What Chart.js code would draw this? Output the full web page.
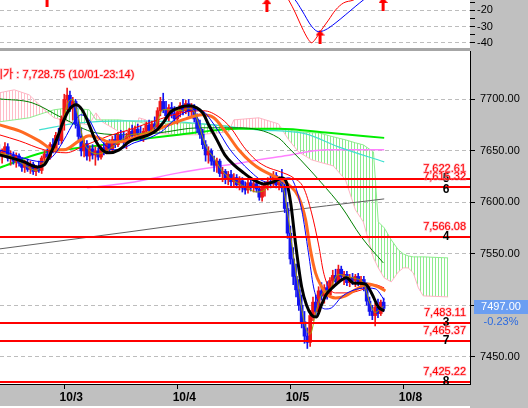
<!DOCTYPE html>
<html lang="ko">
<head>
<meta charset="utf-8">
<title>선물 시간봉 차트</title>
<script src="https://cdn.jsdelivr.net/npm/chart.js@4.4.1/dist/chart.umd.min.js"></script>
<style>
  html, body { margin:0; padding:0; background:#c0c0c0; }
  #frame { position:relative; width:528px; height:408px; overflow:hidden; background:#c0c0c0; }
  #osc { position:absolute; left:0; top:0; }
  #price { position:absolute; left:0; top:51px; }
  #divider { position:absolute; left:0; top:48px; width:470px; height:3px; background:#a6a6a6; }
  #footer { position:absolute; left:0; top:406px; width:470px; height:2px; background:#fff; }
</style>
</head>
<body>
<div id="frame">
  <canvas id="osc" width="528" height="48"></canvas>
  <div id="divider"></div>
  <canvas id="price" width="528" height="357"></canvas>
  <div id="footer"></div>
</div>
<script>
const FONT = "'Liberation Sans', Arial, sans-serif";
const KFONT = "'Liberation Sans', 'Noto Sans CJK KR', sans-serif";
const UP = '#f01818', DOWN = '#1414f0';

// ---- candles (bar index = position) ----
const opens = [7650,7645,7649,7654,7643,7646,7640,7645,7638,7634, 7638,7632,7637,7630,7633,7631,7643,7647,7644,7656,
  7651,7665,7660,7681,7700,7704,7692,7698,7676,7664, 7650,7657,7645,7652,7646,7650,7644,7653,7649,7657,
  7651,7661,7656,7665,7661,7658,7664,7669,7665,7671, 7667,7663,7669,7675,7670,7676,7673,7689,7698,7690,
  7684,7692,7686,7681,7688,7694,7689,7696,7688,7692, 7681,7672,7666,7656,7646,7650,7640,7636,7640,7628,
  7630,7622,7627,7620,7624,7617,7621,7614,7612,7619, 7615,7618,7613,7605,7614,7617,7620,7618,7626,7617,
  7622,7614,7594,7570,7545,7528,7515,7500,7484,7470, 7464,7490,7503,7494,7514,7509,7517,7510,7524,7529,
  7523,7535,7528,7530,7522,7527,7524,7528,7521,7525, 7518,7504,7494,7490,7498,7492,7503];
const highs = [7656,7652,7658,7657,7650,7649,7648,7647,7643,7641, 7642,7640,7639,7636,7640,7645,7650,7652,7658,7662,
  7668,7672,7684,7705,7711,7708,7702,7700,7684,7672, 7661,7660,7655,7656,7654,7653,7655,7658,7660,7661,
  7664,7666,7668,7670,7669,7667,7672,7675,7674,7676, 7674,7672,7678,7680,7679,7683,7692,7702,7706,7698,
  7695,7697,7693,7690,7697,7700,7699,7700,7696,7695, 7686,7680,7671,7660,7654,7652,7645,7643,7642,7634,
  7632,7630,7631,7628,7627,7625,7624,7620,7622,7623, 7621,7621,7616,7616,7620,7624,7627,7630,7629,7625,
  7632,7618,7600,7577,7556,7540,7525,7510,7494,7478, 7495,7508,7510,7518,7522,7520,7523,7527,7534,7535,
  7539,7538,7533,7533,7530,7531,7530,7531,7528,7528, 7522,7508,7500,7502,7506,7505,7507];
const lows = [7641,7638,7644,7640,7636,7637,7634,7635,7630,7629, 7630,7628,7627,7626,7629,7628,7638,7640,7642,7648,
  7649,7656,7657,7670,7690,7688,7680,7672,7660,7645, 7644,7641,7640,7642,7636,7641,7642,7646,7647,7648,
  7649,7653,7654,7658,7655,7652,7660,7662,7661,7663, 7660,7659,7665,7666,7667,7669,7671,7684,7687,7680,
  7679,7682,7678,7676,7683,7685,7686,7684,7682,7678, 7668,7662,7652,7640,7638,7636,7630,7629,7625,7620,
  7618,7617,7616,7615,7614,7612,7610,7608,7609,7611, 7610,7610,7602,7601,7606,7612,7614,7615,7614,7612,
  7610,7590,7565,7540,7520,7508,7495,7478,7463,7458, 7460,7485,7488,7492,7505,7502,7506,7508,7518,7520,
  7521,7524,7520,7519,7518,7520,7518,7519,7516,7514, 7500,7490,7486,7480,7488,7490,7494];
const closes = [7645,7649,7654,7643,7646,7640,7645,7638,7634,7638, 7632,7637,7630,7633,7631,7643,7647,7644,7656,7651,
  7665,7660,7681,7700,7704,7692,7698,7676,7664,7650, 7657,7645,7652,7646,7650,7644,7653,7649,7657,7651,
  7661,7656,7665,7661,7658,7664,7669,7665,7671,7667, 7663,7669,7675,7670,7676,7673,7689,7698,7690,7684,
  7692,7686,7681,7688,7694,7689,7696,7688,7692,7681, 7672,7666,7656,7646,7650,7640,7636,7640,7628,7630,
  7622,7627,7620,7624,7617,7621,7614,7612,7619,7615, 7618,7613,7605,7614,7617,7620,7618,7626,7617,7622,
  7614,7594,7570,7545,7528,7515,7500,7484,7470,7464, 7490,7503,7494,7514,7509,7517,7510,7524,7529,7523,
  7535,7528,7530,7522,7527,7524,7528,7521,7525,7518, 7504,7494,7490,7498,7492,7503,7497];

// ---- axes ----
const dayTicks = [23, 63, 103, 143];
const dayLabels = ['10/3', '10/4', '10/5', '10/8'];
const priceTicks = [7450, 7500, 7550, 7600, 7650, 7700];
const oscTicks = [-40, -35, -30, -25, -20, -15];

// ---- moving averages: [bar, price] ----
const maBlack = [[0,7646.1],[4.2,7643.2],[8.8,7639.3],[13.4,7634.4],[15.9,7636.4],[18.4,7649],[20.5,7662.6],[22.6,7678.2],
  [24.7,7689.9],[27.2,7694.7],[29.3,7689.9],[31.8,7675.3],[33.9,7660.7],[36.4,7651],[38.8,7648.1],[42.4,7651],[45.9,7658.7],
  [49.4,7662.6],[52.9,7665.6],[55.8,7670.4],[58.2,7678.2],[60.7,7687.9],[63.5,7691.8],[67.1,7693.7],[69.9,7691.8],[72,7686.9],
  [74.1,7675.3],[77,7660.7],[79.8,7646.1],[83,7636.4],[86.5,7628.6],[90,7621.8],[93.5,7617.9],[97.1,7619.9],[99.9,7623.8],
  [101.7,7618.9],[103.1,7599.5],[104.8,7560.6],[107,7517.8],[108.7,7500.3],[110.5,7490.6],[112.2,7488.6],[114,7500.3],
  [115.8,7511],[118.2,7517.8],[121.1,7524.6],[122.8,7526.6],[125.3,7521.7],[129.5,7520.7],[131.7,7512],[134.1,7498.4],[136.2,7494.5]];
const maOlive = [[0,7648],[4,7645],[9,7636],[13,7631],[16,7640],[19,7652],[22,7672],[24,7695],[26,7700],[28,7682],[30,7658],
  [32,7650],[35,7647],[39,7652],[43,7660],[47,7666],[51,7667],[55,7673],[58,7690],[61,7690],[64,7689],[67,7691],[69,7688],
  [71,7672],[73,7655],[76,7643],[79,7630],[83,7621],[87,7615],[91,7610],[94,7612],[97,7621],[100,7618],[102,7590],[104,7550],
  [106,7515],[108,7482],[110,7472],[112,7493],[114,7510],[117,7516],[120,7530],[123,7528],[126,7526],[129,7521],[131,7503],
  [133,7493],[135,7497],[136,7499]];
const maBlue = [[0,7651],[5.3,7646.1],[10.6,7641.3],[15.9,7639.3],[19.4,7646.1],[22.9,7660.7],[26.5,7678.2],[28.9,7685],
  [31.8,7680.1],[34.6,7665.6],[37.4,7655.8],[40.6,7651],[44.1,7652.9],[47.7,7657.8],[51.2,7660.7],[54.7,7664.6],[58.2,7670.4],
  [61.8,7680.1],[65.3,7686.9],[68.8,7689.9],[72.4,7687.9],[74.8,7680.1],[77.7,7668.5],[81.2,7652.9],[84.7,7641.3],[89,7629.6],
  [92.5,7621.8],[96,7618.9],[99.5,7621.8],[102.4,7623.8],[104.1,7619.9],[107,7592.7],[109.4,7550.9],[111.2,7517.8],[113,7502.3],
  [115.4,7496.4],[117.5,7497.4],[121.1,7508.1],[124.6,7513.9],[129.5,7516.8],[133.1,7515.9],[136.2,7505.2]];
const maOrange = [[0,7675.3],[7.1,7669.4],[14.1,7659.7],[19.4,7651],[22.9,7651],[28.2,7659.7],[31.8,7664.6],[35.3,7662.6],
  [38.8,7658.7],[42.4,7658.7],[48.4,7663.6],[54,7668.5],[60,7675.3],[66,7681.1],[71.7,7685],[75.9,7682.1],[80.1,7668.5],
  [84.7,7651],[89.3,7638.3],[92.8,7631.5],[97.8,7624.7],[102.4,7617],[105.9,7605.3],[108.4,7582.9],[110.1,7553.8],[111.9,7531.4],
  [113.7,7519.8],[115.8,7511],[119,7507.1],[122.5,7509.1],[126,7514.9],[130.6,7520.7],[134.1,7517.8],[136.6,7513.9]];
const maRed = [[0,7665.6],[7.1,7659.7],[15.9,7651],[23.6,7648.1],[30,7654.9],[38.8,7664.6],[45.9,7670.4],[54,7678.2],
  [66,7687.9],[72.4,7688.9],[77.7,7683],[81.9,7672.4],[86.5,7653.9],[90.7,7641.3],[94.6,7634.4],[99.5,7629.6],[104.1,7623.8],
  [107.7,7614],[110.5,7589.7],[113,7558.6],[114.7,7532.4],[116.5,7517.8],[119,7512],[123.5,7512],[128.1,7514.9],[133.1,7519.8],[136.2,7516.8]];
const maDarkGreen = [[0,7700.5],[11.6,7696.7],[22.2,7682.1],[34.2,7667.5],[45.9,7665.6],[56.5,7667.5],[70.6,7672.4],
  [84.7,7672.4],[98.8,7662.6],[102.4,7652.9],[106.6,7641.3],[114,7618.9],[121.1,7595.6],[128.1,7566.4],[135.9,7541.1]];
const maLime = [[0,7633.5],[15.2,7648.1],[31.8,7653.9],[45.9,7659.7],[63.5,7665.6],[84.7,7671.4],[98.8,7671.4],[116.5,7667.5],[136.2,7662.6]];
const maCyan = [[14.1,7670.4],[28.2,7677.2],[45.9,7679.2],[63.5,7678.2],[91.8,7670.4],[108.4,7666.5],[120,7653.9],[136.2,7639.3]];
const maViolet = [[31.1,7614],[45.9,7618.9],[63.5,7628.6],[81.2,7636.4],[98.8,7644.2],[116.5,7651],[136.2,7651]];
const maGrey = [[0,7554.7],[45.9,7571.3],[95.3,7589.7],[136.2,7603.3]];

// ---- cloud spans (drawn ahead of price) ----
const cloudBars = [0,5.3,10.6,15.9,19.4,24.7,31.8,34.2,36.4,42.4,48.4,49.4,51.9,53.7,63.5,70.6,81.2,83,91.8,98.8,
  102.4,105.9,110.5,113,118.2,122.5,126,128.8,132.4,134.1,136.2,138.7,141.2,143,144.7,146.5,148.3,150,158.8];
const spanA = [7678.2,7680.1,7682.1,7686.9,7689.9,7691.8,7689.9,7680.1,7680.1,7680.1,7678.2,7678.2,7676.2,7676.2,7677.2,
  7676.2,7674.3,7672.4,7670.4,7670.4,7670.4,7668.5,7667.5,7667.5,7663.6,7660.7,7657.8,7655.8,7649.0,7581.0,7575.2,7563.5,
  7553.8,7549.9,7547.9,7547.0,7547.0,7547.0,7546.0];
const spanB = [7706.4,7709.3,7704.4,7689.9,7682.1,7678.2,7675.3,7686.9,7678.2,7668.5,7668.5,7682.1,7680.1,7667.5,7665.6,
  7665.6,7668.5,7680.1,7682.1,7676.2,7660.7,7649.0,7641.3,7639.3,7635.4,7621.8,7592.7,7581.0,7546.0,7536.3,7526.6,7522.7,
  7532.4,7536.3,7536.3,7531.4,7516.8,7509.1,7508.1];

// ---- horizontal levels ----
const levelValues = [7622.61, 7615.32, 7566.08, 7483.11, 7465.37, 7425.22];
const levelTags = ['5', '6', '4', '3', '7', '8'];

// ---- header / change ----
const infoText = '시가 : 7,728.75 (10/01-23:14)';
const changeText = '-0.23%';

// ---- oscillator panel: [bar, value] ----
const oscRed = [[98,-8],[101,-10],[102.4,-13.7],[104.8,-21.7],[107,-30.2],[109.4,-38],[110.5,-39.9],[111.5,-38.5],
  [114,-32],[116.5,-26],[119,-19.8],[121.8,-15.5],[125.3,-13.7],[128,-11]];
const oscBlue = [[102,-10],[104.7,-13.7],[107,-19.8],[110.6,-30],[113,-33.1],[115.3,-32.1],[118.8,-28],[122.4,-22.9],
  [125.9,-17.8],[128.8,-13.7],[131,-11]];
const buySignals = [[16.9,-13.7],[94.7,-16.8],[113.5,-36.1],[135.8,-16.1]];

// ---------------------------------------------------------------
const X_MIN = 0.25, X_MAX = 166.56, AXIS_W = 58;
Chart.defaults.font.family = FONT;

const xy = pts => pts.map(([x, y]) => ({ x, y }));
const candleColor = i => closes[i] >= opens[i] ? UP : DOWN;

function lineSet(pts, color, width, order) {
  return { type: 'line', data: xy(pts), borderColor: color, borderWidth: width, pointRadius: 0,
           cubicInterpolationMode: 'monotone', fill: false, order };
}

const whiteArea = {
  id: 'whiteArea',
  beforeDraw(chart) {
    const { ctx, chartArea: a } = chart;
    ctx.save();
    ctx.fillStyle = '#ffffff';
    ctx.fillRect(a.left, a.top, a.right - a.left, a.bottom - a.top);
    ctx.restore();
  }
};

function redText(ctx, s, x, y) {
  ctx.lineWidth = 1.4;
  ctx.strokeStyle = 'rgba(255,150,165,0.6)';
  ctx.strokeText(s, x, y);
  ctx.fillStyle = '#ff0000';
  ctx.fillText(s, x, y);
}
const fmt = v => v.toLocaleString('en-US', { minimumFractionDigits: 2, maximumFractionDigits: 2 });

const overlay = {
  id: 'overlay',
  afterDatasetsDraw(chart) {
    const { ctx, chartArea: a, scales: { y } } = chart;
    ctx.save();
    ctx.beginPath();
    ctx.rect(a.left, a.top, a.right - a.left, a.bottom - a.top);
    ctx.clip();

    ctx.font = `11px ${KFONT}`;
    ctx.textAlign = 'left';
    ctx.textBaseline = 'middle';
    redText(ctx, infoText, -7, a.top + 24);

    let lastTag = null;
    levelValues.forEach((v, i) => {
      const py = Math.round(y.getPixelForValue(v));
      ctx.strokeStyle = '#ff0000';
      ctx.lineWidth = 2;
      ctx.beginPath();
      ctx.moveTo(a.left, py);
      ctx.lineTo(a.right, py);
      ctx.stroke();

      ctx.font = `11px ${FONT}`;
      ctx.textAlign = 'right';
      ctx.textBaseline = 'alphabetic';
      redText(ctx, fmt(v), a.right - 4, py - 7);

      let ty = py;
      if (lastTag !== null && ty - lastTag < 11) ty = lastTag + 11;
      lastTag = ty;
      ctx.font = `bold 12px ${FONT}`;
      ctx.textAlign = 'center';
      ctx.textBaseline = 'middle';
      ctx.fillStyle = '#000';
      ctx.fillText(levelTags[i], a.right - 24, ty);
    });
    ctx.restore();
  },
  afterDraw(chart) {
    const { ctx, chartArea: a, scales: { y } } = chart;
    const last = closes[closes.length - 1];
    const py = y.getPixelForValue(last);
    ctx.save();
    ctx.fillStyle = '#6b9ef2';
    ctx.fillRect(a.right + 4, Math.round(py) - 8, 54, 14);
    ctx.font = `11px ${FONT}`;
    ctx.textAlign = 'center';
    ctx.textBaseline = 'middle';
    ctx.fillStyle = '#ffffff';
    ctx.fillText(last.toFixed(2), a.right + 31, py - 1);
    ctx.fillStyle = '#2a6ae0';
    ctx.fillText(changeText, a.right + 31, py + 14);
    ctx.restore();
  }
};

// ---- price panel ----
const priceCanvas = document.getElementById('price');
const pctx = priceCanvas.getContext('2d');
function hatch(color) {
  const c = document.createElement('canvas');
  c.width = 3; c.height = 2;
  const g = c.getContext('2d');
  g.fillStyle = color;
  g.fillRect(0, 0, 1, 2);
  return pctx.createPattern(c, 'repeat');
}
const greenHatch = hatch('#8eec8e');
const pinkHatch = hatch('#ffbcc8');

new Chart(priceCanvas, {
  type: 'bar',
  data: {
    datasets: [
      { type: 'line', data: cloudBars.map((b, i) => ({ x: b, y: spanA[i] })), borderColor: '#8eec8e', borderWidth: 1,
        pointRadius: 0, tension: 0, order: 100, fill: { target: 1, above: greenHatch, below: pinkHatch } },
      { type: 'line', data: cloudBars.map((b, i) => ({ x: b, y: spanB[i] })), borderColor: '#ffb4c4', borderWidth: 1,
        pointRadius: 0, tension: 0, order: 99, fill: false },
      lineSet(maGrey, '#606060', 1, 60),
      lineSet(maViolet, '#ff80ff', 1.5, 59),
      lineSet(maCyan, '#40e0d0', 1.2, 58),
      lineSet(maLime, '#00ee00', 2, 57),
      lineSet(maDarkGreen, '#008000', 1, 56),
      { type: 'bar', data: closes.map((c, i) => ({ x: i, y: [lows[i], highs[i]] })),
        backgroundColor: ctx => candleColor(ctx.dataIndex), barThickness: 1, grouped: false, order: 45 },
      { type: 'bar', data: closes.map((c, i) => ({ x: i, y: [opens[i], c] })),
        backgroundColor: ctx => candleColor(ctx.dataIndex), barThickness: 3, minBarLength: 1, grouped: false, order: 44 },
      lineSet(maRed, '#ff0000', 1, 30),
      lineSet(maOrange, '#ff6a22', 3, 25),
      lineSet(maBlue, '#0000ff', 1, 20),
      lineSet(maOlive, '#a0a000', 1, 15),
      lineSet(maBlack, '#000000', 3, 10)
    ]
  },
  options: {
    responsive: false, animation: false, events: [],
    layout: { padding: 0, autoPadding: false },
    plugins: { legend: { display: false }, tooltip: { enabled: false } },
    scales: {
      x: {
        type: 'linear', min: X_MIN, max: X_MAX, position: 'bottom', offset: false,
        afterBuildTicks: s => { s.ticks = dayTicks.map(v => ({ value: v })); },
        afterFit: s => { s.height = 24; s.paddingLeft = 0; s.paddingRight = 0; },
        ticks: { callback: (v, i) => dayLabels[i], font: { size: 12, weight: 'bold' }, color: '#000',
                 maxRotation: 0, autoSkip: false, labelOffset: 7, padding: 1 },
        grid: { drawOnChartArea: false, drawTicks: true, tickLength: 5, tickColor: '#000', offset: false },
        border: { display: true, color: '#000' }
      },
      y: {
        position: 'right', min: 7423.5, max: 7747,
        afterBuildTicks: s => { s.ticks = priceTicks.map(v => ({ value: v })); },
        afterFit: s => { s.width = AXIS_W; s.paddingTop = 0; s.paddingBottom = 0; },
        ticks: { callback: v => Number(v).toFixed(2), font: { size: 11 }, color: '#000', padding: 5, autoSkip: false },
        grid: { color: '#bdbdbd', tickColor: '#000', tickLength: 5, tickBorderDash: [] },
        border: { display: true, color: '#000', dash: [4, 3] }
      }
    }
  },
  plugins: [whiteArea, overlay]
});

// ---- oscillator panel ----
function arrowImage() {
  const c = document.createElement('canvas');
  c.width = 9; c.height = 14;
  const g = c.getContext('2d');
  g.fillStyle = '#ff0000';
  g.beginPath();
  g.moveTo(4.5, 0); g.lineTo(9, 6); g.lineTo(0, 6); g.closePath();
  g.fill();
  g.fillRect(3, 6, 3, 8);
  return c;
}

new Chart(document.getElementById('osc'), {
  type: 'line',
  data: {
    datasets: [
      { data: xy(oscRed), borderColor: '#ff0000', borderWidth: 1, pointRadius: 0, cubicInterpolationMode: 'monotone' },
      { data: xy(oscBlue), borderColor: '#0000ff', borderWidth: 1, pointRadius: 0, cubicInterpolationMode: 'monotone' },
      { data: xy(buySignals), showLine: false, pointStyle: arrowImage(), pointRadius: 4, clip: false }
    ]
  },
  options: {
    responsive: false, animation: false, events: [],
    layout: { padding: 0, autoPadding: false },
    plugins: { legend: { display: false }, tooltip: { enabled: false } },
    scales: {
      x: { type: 'linear', min: X_MIN, max: X_MAX, display: false },
      y: {
        position: 'right', min: -43.13, max: -13.68,
        afterBuildTicks: s => { s.ticks = oscTicks.map(v => ({ value: v })); },
        afterFit: s => { s.width = AXIS_W; s.paddingTop = 0; s.paddingBottom = 0; },
        ticks: { callback: v => (v % 10 === 0 ? String(v) : ''), font: { size: 11 }, color: '#000', padding: 2, autoSkip: false },
        grid: { color: c => (c.tick && c.tick.value % 10 === 0) ? '#bdbdbd' : 'rgba(0,0,0,0)',
                tickColor: '#000', tickLength: 5, tickBorderDash: [] },
        border: { display: false, dash: [4, 3] }
      }
    }
  },
  plugins: [whiteArea]
});
</script>
</body>
</html>
